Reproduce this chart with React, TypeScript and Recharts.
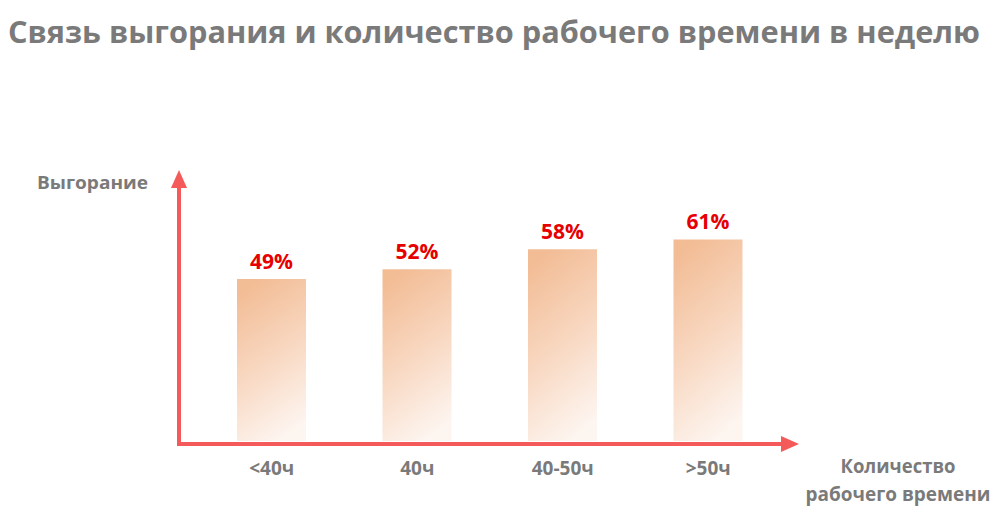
import { BarChart, Bar, XAxis, YAxis, LabelList, Customized } from 'recharts';

const categories = ['<40ч', '40ч', '40-50ч', '>50ч'];
const burnout = [49, 52, 58, 61];

const chartData = categories.map((hours, i) => ({ hours, burnout: burnout[i] }));

const W = 1000;
const H = 519;
const MARGIN = { top: 170, right: 201, bottom: 48, left: 179 };
const X_AXIS_H = 30;

const AXIS_RED = '#f55a5a';
const TEXT_GRAY = '#7a7a7a';
const FONT = '"Open Sans", "Noto Sans", sans-serif';

// arrows + free text drawn on top of the plot
function Decorations() {
  const left = MARGIN.left;
  const top = MARGIN.top;
  const bottom = H - MARGIN.bottom - X_AXIS_H;
  const right = W - MARGIN.right;
  const xLineY = bottom + 3;
  return (
    <g>
      <line x1={left} y1={xLineY + 2} x2={left} y2={top + 16} stroke={AXIS_RED} strokeWidth={4} />
      <polygon points={`${left},${top} ${left - 8},${top + 18} ${left + 8},${top + 18}`} fill={AXIS_RED} />
      <line x1={left - 2} y1={xLineY} x2={right - 16} y2={xLineY} stroke={AXIS_RED} strokeWidth={4} />
      <polygon points={`${right},${xLineY} ${right - 18},${xLineY - 8} ${right - 18},${xLineY + 8}`} fill={AXIS_RED} />

      <text x={8} y={43} textLength={972} lengthAdjust="spacingAndGlyphs" fill={TEXT_GRAY} fontFamily={FONT} fontWeight={700} fontSize={30}>
        Связь выгорания и количество рабочего времени в неделю
      </text>
      <text x={37} y={189} textLength={111} lengthAdjust="spacingAndGlyphs" fill={TEXT_GRAY} fontFamily={FONT} fontWeight={700} fontSize={18}>
        Выгорание
      </text>
      <text x={898} y={473} textLength={115} lengthAdjust="spacingAndGlyphs" textAnchor="middle" fill={TEXT_GRAY} fontFamily={FONT} fontWeight={700} fontSize={19}>
        Количество
      </text>
      <text x={898} y={501} textLength={185} lengthAdjust="spacingAndGlyphs" textAnchor="middle" fill={TEXT_GRAY} fontFamily={FONT} fontWeight={700} fontSize={19}>
        рабочего времени
      </text>
    </g>
  );
}

export default function App() {
  return (
    <div style={{ position: 'absolute', left: 0, top: 0, width: W, height: H, background: '#fff' }}>
      <BarChart width={W} height={H} data={chartData} margin={MARGIN}>
        <defs>
          <linearGradient id="barFill" x1="0.3" y1="0" x2="0.6" y2="1">
            <stop offset="0%" stopColor="#f2bc95" />
            <stop offset="50%" stopColor="#f8d7c0" />
            <stop offset="100%" stopColor="#fdf5f0" />
          </linearGradient>
        </defs>
        <XAxis
          dataKey="hours"
          height={X_AXIS_H}
          axisLine={false}
          tickLine={false}
          padding={{ left: 20, right: 18 }}
          tick={{ fill: TEXT_GRAY, fontSize: 19, fontWeight: 700, fontFamily: FONT }}
          dy={13}
        />
        <YAxis hide domain={[0, 82]} />
        <Bar dataKey="burnout" fill="url(#barFill)" barSize={69} isAnimationActive={false}>
          <LabelList
            dataKey="burnout"
            position="top"
            offset={10}
            formatter={(v: any) => `${v}%`}
            style={{ fill: '#e60000', fontSize: 21, fontWeight: 700, fontFamily: FONT }}
          />
        </Bar>
        <Customized component={Decorations} />
      </BarChart>
    </div>
  );
}
